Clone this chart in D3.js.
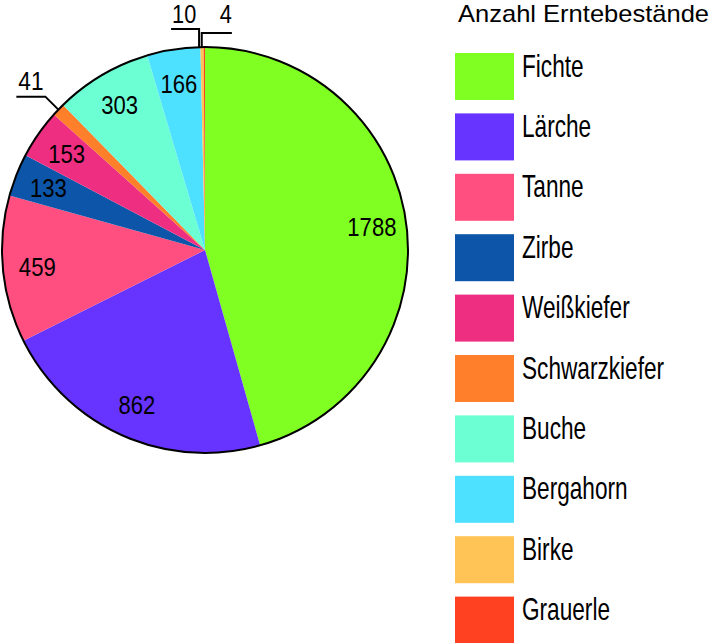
<!DOCTYPE html>
<html><head><meta charset="utf-8">
<script src="https://cdn.jsdelivr.net/npm/d3@7"></script>
<style>
body{margin:0;background:#fff;}
text{font-family:"Liberation Sans",Arial,sans-serif;fill:#000;}
</style></head>
<body>
<svg id="chart" width="714" height="643"></svg>
<script>
const categories = ["Fichte","Lärche","Tanne","Zirbe","Weißkiefer","Schwarzkiefer","Buche","Bergahorn","Birke","Grauerle"];
const values = [1788,862,459,133,153,41,303,166,10,4];
const colors = ["#80ff22","#6633ff","#ff4f80","#0d55a8","#ee2e80","#ff7f2a","#6cffd4","#4ee1ff","#ffc455","#ff4122"];
const legendTitle = "Anzahl Erntebestände";

const svg = d3.select("#chart");
const cx = 205, cy = 250, R = 203;
const data = categories.map((c,i)=>({cat:c, value:values[i], color:colors[i]}));
const pie = d3.pie().value(d=>d.value).sort(null);
const arcs = pie(data);
const arc = d3.arc().innerRadius(0).outerRadius(R);
const g = svg.append("g").attr("transform",`translate(${cx},${cy})`);
g.selectAll("path").data(arcs).join("path").attr("d",arc).attr("fill",d=>d.data.color);
g.append("circle").attr("r",R).attr("fill","none").attr("stroke","#000").attr("stroke-width",2);

// condensed text helper (horizontal squeeze)
function ctext(sel, x, y, str, size, sx, anchor){
  return sel.append("text")
    .attr("transform",`translate(${x},${y}) scale(${sx},1)`)
    .attr("text-anchor",anchor||"start")
    .style("font-size",size+"px").text(str);
}

const labelArc = d3.arc().innerRadius(R*0.83).outerRadius(R*0.83);
arcs.filter(a=>a.data.value>=100).forEach(a=>{
  const c = labelArc.centroid(a);
  ctext(g, c[0], c[1]+9.5, a.data.value, 26, 0.85, "middle");
});

function edge(a){const ang=(a.startAngle+a.endAngle)/2;return [R*Math.sin(ang), -R*Math.cos(ang)];}
// leader lines for small slices (offsets relative to slice edge point)
const small = {
  "Schwarzkiefer": p => ({pts:[p,[p[0]-13,p[1]-13],[p[0]-42,p[1]-13]], tx:p[0]-40, ty:p[1]-20, size:26, anchor:"start"}),
  "Birke": p => ({pts:[[p[0]-3,p[1]],[p[0]-3,p[1]-18],[p[0]-31,p[1]-18]], tx:p[0]-30, ty:p[1]-24, size:25, anchor:"start"}),
  "Grauerle": p => ({pts:[[p[0]-2.6,p[1]],[p[0]-2.6,p[1]-14],[p[0]+27.5,p[1]-14]], tx:p[0]+27.5, ty:p[1]-24, size:25, anchor:"end"})
};
arcs.filter(a=>small[a.data.cat]).forEach(a=>{
  const p = edge(a);
  const s = small[a.data.cat](p);
  g.append("path").attr("d",d3.line()(s.pts)).attr("fill","none").attr("stroke","#000").attr("stroke-width",2);
  ctext(g, s.tx, s.ty, a.data.value, s.size, 0.87, s.anchor);
});

// legend
ctext(svg, 458, 22, legendTitle, 23, 1.11, "start");
const ly = d3.scaleBand().domain(categories).range([53,657]).paddingInner(0);
const lg = svg.append("g");
lg.selectAll("rect").data(data).join("rect")
  .attr("x",455).attr("y",d=>ly(d.cat)).attr("width",59).attr("height",47).attr("fill",d=>d.color);
data.forEach(d=>ctext(lg, 522, ly(d.cat)+23.5, d.cat, 31, 0.73, "start"));
</script>
</body></html>
